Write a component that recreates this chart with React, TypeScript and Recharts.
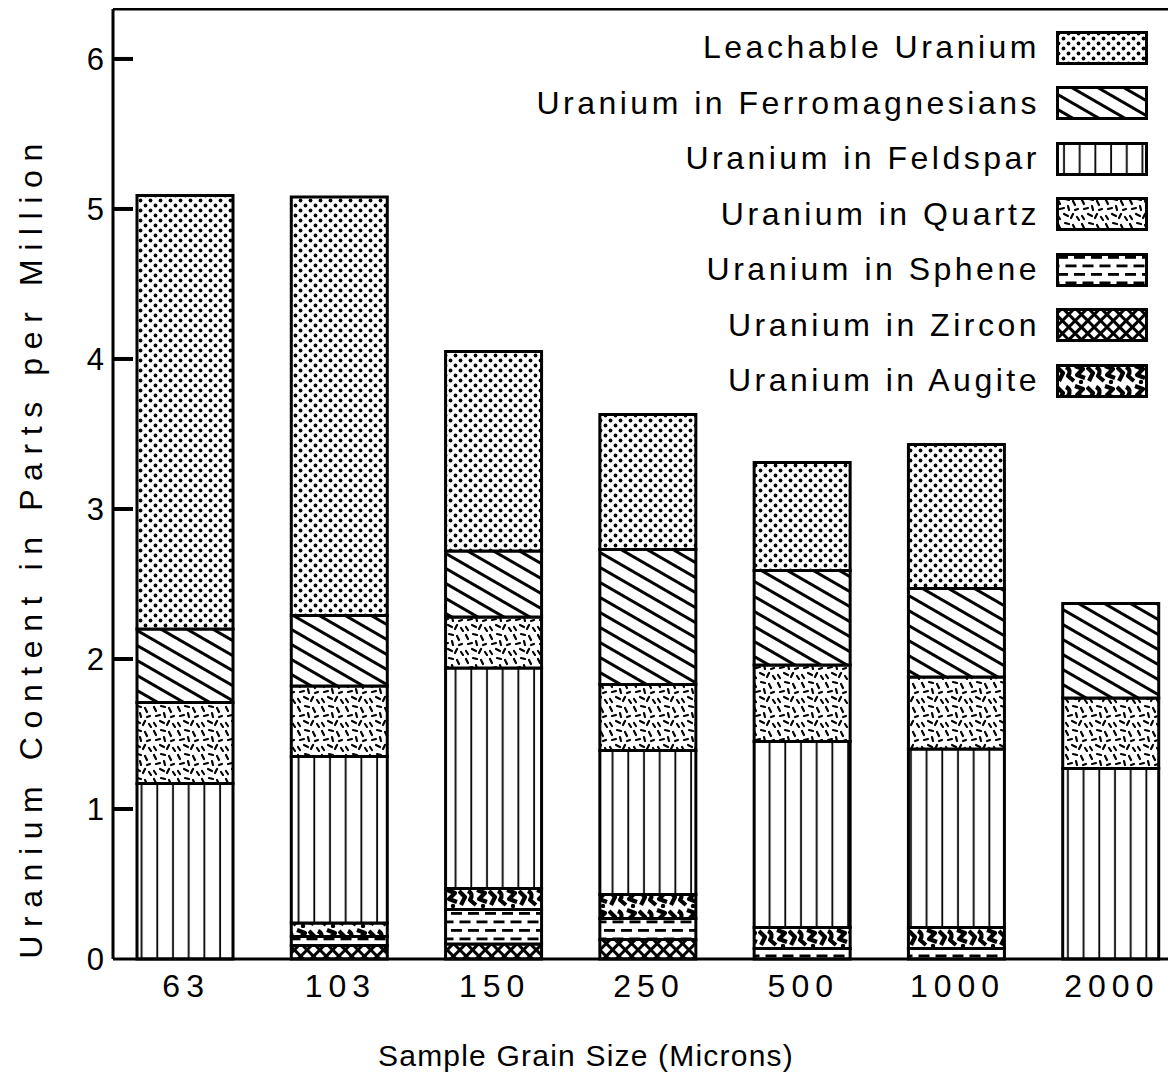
import React from 'react';
import { BarChart, Bar, XAxis, YAxis, ReferenceLine, Legend, Label } from 'recharts';

const categories = ['63', '103', '150', '250', '500', '1000', '2000'];
const zircon = [0, 0.09, 0.1, 0.13, 0, 0, 0];
const sphene = [0, 0.06, 0.23, 0.14, 0.07, 0.07, 0];
const augite = [0, 0.09, 0.14, 0.16, 0.14, 0.14, 0];
const feldspar = [1.17, 1.11, 1.47, 0.96, 1.24, 1.19, 1.27];
const quartz = [0.54, 0.47, 0.34, 0.44, 0.51, 0.48, 0.47];
const ferro = [0.49, 0.47, 0.44, 0.9, 0.63, 0.59, 0.63];
const leach = [2.89, 2.79, 1.33, 0.9, 0.72, 0.96, 0];
const yTicks = [0, 1, 2, 3, 4, 5, 6];
const yMax = 6.333;

const seriesLabels: Record<string, string> = {
  leach: 'Leachable Uranium',
  ferro: 'Uranium in Ferromagnesians',
  feldspar: 'Uranium in Feldspar',
  quartz: 'Uranium in Quartz',
  sphene: 'Uranium in Sphene',
  zircon: 'Uranium in Zircon',
  augite: 'Uranium in Augite',
};
const stackOrder = ['zircon', 'sphene', 'augite', 'feldspar', 'quartz', 'ferro', 'leach'];
const legendOrder = ['leach', 'ferro', 'feldspar', 'quartz', 'sphene', 'zircon', 'augite'];

const data = categories.map((c, i) => ({
  size: c,
  zircon: zircon[i],
  sphene: sphene[i],
  augite: augite[i],
  feldspar: feldspar[i],
  quartz: quartz[i],
  ferro: ferro[i],
  leach: leach[i],
}));

const FONT = '"Liberation Sans", Arial, Helvetica, sans-serif';

const quartzStrokes = [
  [2, 3, 4, 7], [9, 2, 13, 3], [17, 4, 19, 8], [4, 12, 8, 11], [12, 9, 13, 13],
  [19, 13, 22, 12], [2, 19, 4, 22], [8, 17, 12, 19], [15, 21, 17, 17], [21, 20, 23, 23],
];

const Patterns = () => (
  <svg width={0} height={0} style={{ position: 'absolute' }}>
    <defs>
      <pattern id="p-leach" width="10" height="10" patternUnits="userSpaceOnUse">
        <rect width="10" height="10" fill="#fff" />
        <circle cx="2.5" cy="2.5" r="1.9" fill="#000" />
        <circle cx="7.5" cy="7.5" r="1.9" fill="#000" />
      </pattern>
      <pattern id="p-ferro" width="13" height="13" patternUnits="userSpaceOnUse" patternTransform="rotate(30)">
        <rect width="13" height="13" fill="#fff" />
        <line x1="0" y1="6.5" x2="13" y2="6.5" stroke="#000" strokeWidth="3" />
      </pattern>
      <pattern id="p-feldspar" width="15.7" height="10" patternUnits="userSpaceOnUse">
        <rect width="15.7" height="10" fill="#fff" />
        <line x1="8" y1="0" x2="8" y2="10" stroke="#000" strokeWidth="1.8" />
      </pattern>
      <pattern id="p-quartz" width="24" height="24" patternUnits="userSpaceOnUse">
        <rect width="24" height="24" fill="#fff" />
        {quartzStrokes.map((s, i) => (
          <line key={i} x1={s[0]} y1={s[1]} x2={s[2]} y2={s[3]} stroke="#000" strokeWidth="2.2" strokeLinecap="round" />
        ))}
      </pattern>
      <pattern id="p-sphene" width="17" height="17" patternUnits="userSpaceOnUse">
        <rect width="17" height="17" fill="#fff" />
        <rect x="1" y="3" width="11" height="2.8" fill="#000" />
        <rect x="9.5" y="11.5" width="11" height="2.8" fill="#000" />
        <rect x="-7.5" y="11.5" width="11" height="2.8" fill="#000" />
      </pattern>
      <pattern id="p-zircon" width="9" height="9" patternUnits="userSpaceOnUse" patternTransform="rotate(45)">
        <rect width="9" height="9" fill="#fff" />
        <path d="M0 4.5 H9 M4.5 0 V9" stroke="#000" strokeWidth="3" />
      </pattern>
      <pattern id="p-augite" width="30" height="20" patternUnits="userSpaceOnUse">
        <rect width="30" height="20" fill="#fff" />
        <path d="M1 3 L7 9 L3 17" stroke="#000" strokeWidth="4.2" fill="none" strokeLinejoin="round" />
        <path d="M10 3 Q16 6 12 12 L18 17" stroke="#000" strokeWidth="4.2" fill="none" strokeLinejoin="round" />
        <path d="M19 2 L27 5 L21 11 L29 14" stroke="#000" strokeWidth="4.2" fill="none" strokeLinejoin="round" />
        <circle cx="25" cy="18" r="2.2" fill="#000" />
      </pattern>
    </defs>
  </svg>
);

const LegendContent = () => (
  <div style={{ display: 'flex', flexDirection: 'column', alignItems: 'flex-end', fontFamily: FONT, color: '#000' }}>
    {legendOrder.map((k) => (
      <div key={k} style={{ height: 55.5, display: 'flex', alignItems: 'center' }}>
        <span style={{ fontSize: 32, letterSpacing: 3.5, marginRight: 16, whiteSpace: 'nowrap' }}>{seriesLabels[k]}</span>
        <svg width={92} height={34} style={{ display: 'block' }}>
          <rect x={1.5} y={1.5} width={89} height={31} fill={`url(#p-${k})`} stroke="#000" strokeWidth={3} />
        </svg>
      </div>
    ))}
  </div>
);

const YTick = (props: any) => {
  const { x, y, payload } = props;
  return (
    <g>
      {payload.value !== 0 && (
        <line x1={x + 8} x2={x + 28} y1={y} y2={y} stroke="#000" strokeWidth={4} />
      )}
      <text x={x - 1} y={y} dy={11} textAnchor="end" fontSize={31} fontFamily={FONT} fill="#000">
        {payload.value}
      </text>
    </g>
  );
};

const XTick = (props: any) => {
  const { x, y, payload } = props;
  return (
    <text x={x + 1} y={y} dy={19} textAnchor="middle" fontSize={32} letterSpacing={6} fontFamily={FONT} fill="#000">
      {payload.value}
    </text>
  );
};

export default function App() {
  return (
    <div style={{ width: 1168, height: 1070, overflow: 'hidden', position: 'relative', background: '#fff' }}>
      <Patterns />
      <BarChart
        width={1190}
        height={1070}
        data={data}
        margin={{ top: 1, right: 10, bottom: 9, left: 0 }}
        barSize={96}
      >
        <XAxis
          dataKey="size"
          type="category"
          padding={{ left: -5, right: 0 }}
          axisLine={{ stroke: '#000', strokeWidth: 3 }}
          tickLine={false}
          tickSize={0}
          tickMargin={19}
          tick={<XTick />}
          height={110}
          interval={0}
        >
          <Label
            content={() => (
              <text x={578} y={1047} textAnchor="middle" dominantBaseline="central" fontSize={30} letterSpacing={1.2} fontFamily={FONT} fill="#000">
                Sample Grain Size (Microns)
              </text>
            )}
          />
        </XAxis>
        <YAxis
          type="number"
          domain={[0, yMax]}
          ticks={yTicks}
          width={105}
          axisLine={{ stroke: '#000', strokeWidth: 3 }}
          tickLine={false}
          tickSize={0}
          tickMargin={8}
          tick={<YTick />}
          interval={0}
        >
          <Label
            content={() => (
              <text x={23} y={539} transform="rotate(-90 23 539)" textAnchor="middle" dominantBaseline="central" fontSize={32} letterSpacing={8.6} fontFamily={FONT} fill="#000">
                Uranium Content in Parts per Million
              </text>
            )}
          />
        </YAxis>
        <ReferenceLine y={yMax} stroke="#000" strokeWidth={3} ifOverflow="visible" />
        <Legend
          layout="vertical"
          align="center"
          verticalAlign="middle"
          content={<LegendContent />}
          wrapperStyle={{ position: 'absolute', top: 12, right: 50, left: 'auto', bottom: 'auto', width: 'auto' }}
        />
        {stackOrder.map((k) => (
          <Bar
            key={k}
            dataKey={k}
            stackId="s"
            fill={`url(#p-${k})`}
            stroke="#000"
            strokeWidth={3}
            isAnimationActive={false}
          />
        ))}
      </BarChart>
    </div>
  );
}
